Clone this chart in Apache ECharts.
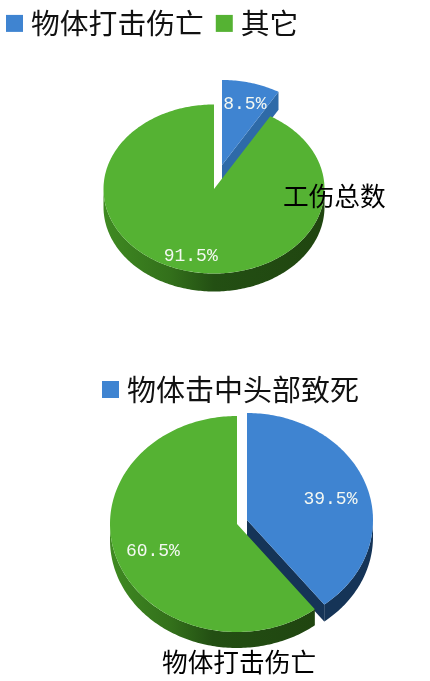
<!DOCTYPE html>
<html><head><meta charset="utf-8">
<style>html,body{margin:0;padding:0;background:#fff}#c{width:430px;height:681px}</style>
<script src="https://cdn.jsdelivr.net/npm/echarts@6/dist/echarts.min.js"></script>
</head><body><div id="c"></div>
<script>
const topCategories = ['物体打击伤亡', '其它'];
const topShares = [8.5, 91.5];
const bottomCategories = ['物体击中头部致死', '其它'];
const bottomShares = [39.5, 60.5];
const topTitle = '工伤总数';
const bottomTitle = '物体打击伤亡';

const BLUE = '#3f84d1', GREEN = '#55b233';
const greenWall = {type:'linear',x:0,y:0,x2:1,y2:0,colorStops:[
  {offset:0,color:'#3f8a22'},{offset:.3,color:'#33701b'},{offset:.5,color:'#234f13'},{offset:1,color:'#204510'}]};

function pt(g,a,dy){const r=a*Math.PI/180;return [g.cx+g.rx*Math.sin(r),g.cy-g.ry*Math.cos(r)+(dy||0)];}
function arc(g,a0,a1,dy){const n=Math.max(2,Math.ceil(Math.abs(a1-a0)));const o=[];for(let i=0;i<=n;i++)o.push(pt(g,a0+(a1-a0)*i/n,dy));return o;}

function slice(name,color,share,before,g,wallColor,cutColor){
  return {
    type:'custom',name,coordinateSystem:'none',silent:true,
    itemStyle:{color},
    data:[[share,before]],
    renderItem(params,api){
      const s=api.value(0),b=api.value(1);
      const a0=b*3.6,a1=(b+s)*3.6,kids=[];
      const apex=[g.cx,g.cy];
      const f0=Math.max(a0,90),f1=Math.min(a1,270);
      if(f1>f0){
        const top=arc(g,f0,f1,0),low=arc(g,f0,f1,g.depth).reverse();
        kids.push({type:'polygon',shape:{points:top.concat(low)},style:{fill:wallColor}});
      }
      if(Math.sin(a1*Math.PI/180)>0.001){
        const e=pt(g,a1,0);
        kids.push({type:'polygon',shape:{points:[apex,e,[e[0],e[1]+g.depth],[apex[0],apex[1]+g.depth]]},style:{fill:cutColor}});
      }
      kids.push({type:'polygon',shape:{points:[apex].concat(arc(g,a0,a1,0))},style:{fill:color}});
      const mid=(a0+a1)/2*Math.PI/180;
      kids.push({type:'text',x:g.cx+g.rx*g.lab*Math.sin(mid),y:g.cy-g.ry*g.lab*Math.cos(mid)+g.labY,
        style:{text:s.toFixed(1)+'%',fill:'#f4f8f2',font:'18px "Liberation Mono"',align:'center',verticalAlign:'middle'}});
      return {type:'group',children:kids};
    }
  };
}

const gTopBlue={cx:222,cy:165,rx:111,ry:85,depth:18,lab:.78,labY:3};
const gTopGreen={cx:214,cy:189,rx:110.5,ry:84.5,depth:18,lab:.8,labY:2};
const gBotBlue={cx:247,cy:520,rx:126,ry:107,depth:17,lab:.7,labY:3};
const gBotGreen={cx:237,cy:524,rx:127,ry:108,depth:16,lab:.7,labY:3};

const font='"Noto Sans CJK SC"';
const chart=echarts.init(document.getElementById('c'),null,{renderer:'canvas'});
chart.setOption({
  animation:false,
  backgroundColor:'#fff',
  title:[
    {text:topTitle,left:283,top:180,padding:0,textStyle:{fontFamily:font,fontSize:25.7,fontWeight:'normal',color:'#000',lineHeight:32},z:20},
    {text:bottomTitle,left:162,top:646,padding:0,textStyle:{fontFamily:font,fontSize:25.7,fontWeight:'normal',color:'#000',lineHeight:32},z:20}
  ],
  legend:[
    {data:topCategories.map(n=>({name:n,icon:'rect'})),left:6,top:9,padding:0,itemWidth:17,itemHeight:17,itemGap:12,selectedMode:false,
      textStyle:{fontFamily:font,fontSize:28.8,color:'#111',padding:[3,0,0,3]}},
    {data:[{name:bottomCategories[0],icon:'rect'}],left:102,top:375,padding:0,itemWidth:17,itemHeight:17,selectedMode:false,
      textStyle:{fontFamily:font,fontSize:29,color:'#111',padding:[0,0,0,3]}}
  ],
  series:[
    slice(topCategories[0],BLUE,topShares[0],0,gTopBlue,'#2e6aa8','#2e6aa8'),
    slice(topCategories[1],GREEN,topShares[1],topShares[0],gTopGreen,greenWall,'#234f13'),
    slice(bottomCategories[0],BLUE,bottomShares[0],0,gBotBlue,'#153457','#153457'),
    slice(bottomCategories[1],GREEN,bottomShares[1],bottomShares[0],gBotGreen,greenWall,'#234f13')
  ]
});
</script></body></html>
